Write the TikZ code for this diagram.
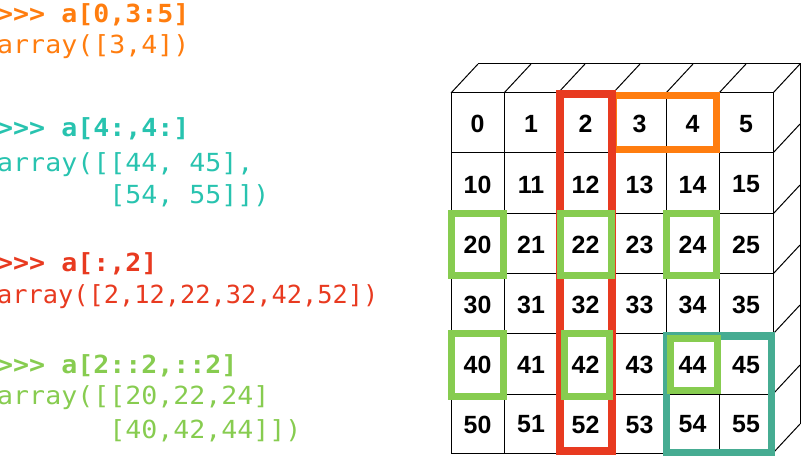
\documentclass[tikz,border=0pt]{standalone}
\usepackage{fontspec}
\newfontfamily\codefont{DejaVu Sans Mono}
\newfontfamily\numfont{Liberation Sans}
\definecolor{sliceorange}{RGB}{255,125,15}
\definecolor{sliceteal}{RGB}{40,195,175}
\definecolor{boxteal}{RGB}{70,172,146}
\definecolor{slicered}{RGB}{232,58,32}
\definecolor{slicegreen}{RGB}{135,204,80}
\begin{document}
\begin{tikzpicture}[x=1bp,y=-1bp,
		cell/.style={black,line width=1bp},
		num/.style={inner sep=0pt,font=\numfont\bfseries\fontsize{25}{25}\selectfont},
		codeline/.style={anchor=base west,inner sep=0pt,xscale=1.068,font=\codefont\fontsize{25}{25}\selectfont},
		promptline/.style={codeline,font=\codefont\bfseries\fontsize{25}{25}\selectfont},
		slicebox/.style={line width=7bp}]
		\useasboundingbox (0,0) rectangle (801,457);
		\coordinate (fl) at (451,93);
		\coordinate (fr) at (773,453);
		\coordinate (back) at (27,-29);

		% front face
		\draw[cell] (fl) rectangle (fr);
		\draw[cell] (504,93)--(504,453) (558,93)--(558,453) (613,93)--(613,453) (666,93)--(666,453) (719,93)--(719,453);
		\draw[cell] (451,153)--(773,153) (451,214)--(773,214) (451,274)--(773,274) (451,334)--(773,334) (451,394)--(773,394);
		% top face
		\draw[cell] (451,93)--+(back) (504,93)--+(back) (558,93)--+(back) (613,93)--+(back) (666,93)--+(back) (719,93)--+(back) (773,93)--+(back);
		\draw[cell] (478,64)--(800,64)--(800,424);
		% right face
		\draw[cell] (773,153)--+(back) (773,214)--+(back) (773,274)--+(back) (773,334)--+(back) (773,394)--+(back) (773,453)--+(back);

		% numbers
		\draw (477.5,124) node[num] (n0) {0} (531,124) node[num] (n1) {1} (585.5,124) node[num] (n2) {2} (639.5,124) node[num] (n3) {3} (692.5,124) node[num] (n4) {4} (746,124) node[num] (n5) {5};
		\draw (477.5,184.5) node[num] (n10) {10} (531,184.5) node[num] (n11) {11} (585.5,184.5) node[num] (n12) {12} (639.5,184.5) node[num] (n13) {13} (692.5,184.5) node[num] (n14) {14} (746,184.5) node[num] (n15) {15};
		\draw (477.5,245) node[num] (n20) {20} (531,245) node[num] (n21) {21} (585.5,245) node[num] (n22) {22} (639.5,245) node[num] (n23) {23} (692.5,245) node[num] (n24) {24} (746,245) node[num] (n25) {25};
		\draw (477.5,305) node[num] (n30) {30} (531,305) node[num] (n31) {31} (585.5,305) node[num] (n32) {32} (639.5,305) node[num] (n33) {33} (692.5,305) node[num] (n34) {34} (746,305) node[num] (n35) {35};
		\draw (477.5,365) node[num] (n40) {40} (531,365) node[num] (n41) {41} (585.5,365) node[num] (n42) {42} (639.5,365) node[num] (n43) {43} (692.5,365) node[num] (n44) {44} (746,365) node[num] (n45) {45};
		\draw (477.5,424.5) node[num] (n50) {50} (531,424.5) node[num] (n51) {51} (585.5,424.5) node[num] (n52) {52} (639.5,424.5) node[num] (n53) {53} (692.5,424.5) node[num] (n54) {54} (746,424.5) node[num] (n55) {55};

		% slices
		\draw[slicebox,sliceorange] (613,95.5) rectangle (716.5,150);
		\draw[slicebox,boxteal,line width=7.5bp] (666.5,336) rectangle (771.5,452.5);
		\draw[slicebox,slicered,line width=8bp] (560,94.5) rectangle (612,451);
		\draw[slicebox,slicegreen] (451.5,213.5) rectangle (503.5,276);
		\draw[slicebox,slicegreen] (560.5,213.5) rectangle (611.5,276);
		\draw[slicebox,slicegreen] (666.5,213.5) rectangle (716.5,276);
		\draw[slicebox,slicegreen] (451.5,333.5) rectangle (503.5,396.5);
		\draw[slicebox,slicegreen] (564,334) rectangle (609,396.5);
		\draw[slicebox,slicegreen] (670.5,339) rectangle (717.5,390.5);

		% code
		\draw (-3,23) node[promptline,sliceorange] (ina) {>>> a[0,3:5]};
		\draw (-3,54) node[codeline,sliceorange] (outa) {array([3,4])};
		\draw (-3,137) node[promptline,sliceteal] (inb) {>>> a[4:,4:]};
		\draw (-3,171.5) node[codeline,sliceteal] (outb) {array([[44, 45],};
		\draw (-3,203.5) node[codeline,sliceteal] (outbb) {\phantom{array([}[54, 55]])};
		\draw (-3,272) node[promptline,slicered] (inc) {>>> a[:,2]};
		\draw (-3,303.5) node[codeline,slicered,xscale=0.952] (outc) {array([2,12,22,32,42,52])};
		\draw (-3,373.5) node[promptline,slicegreen] (ind) {>>> a[2::2,::2]};
		\draw (-3,404.5) node[codeline,slicegreen] (outd) {array([[20,22,24]};
		\draw (-3,438.5) node[codeline,slicegreen] (outdd) {\phantom{array([}[40,42,44]])};
\end{tikzpicture}
\end{document}
